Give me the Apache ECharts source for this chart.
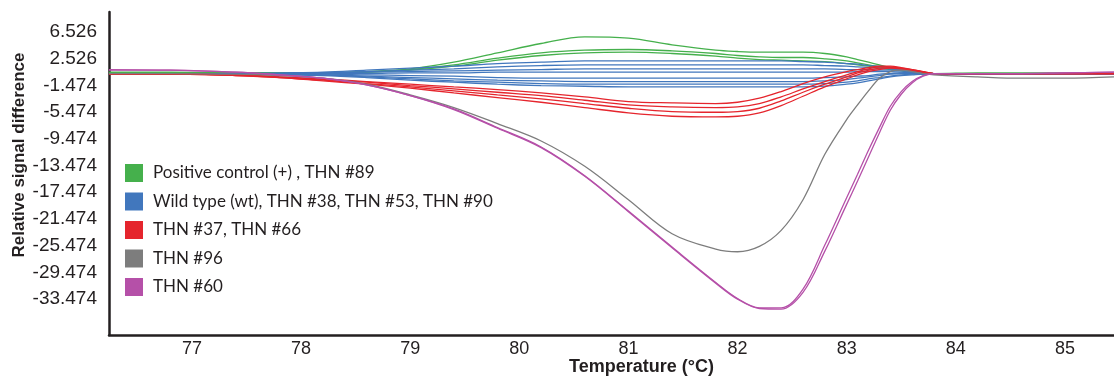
<!DOCTYPE html>
<html>
<head>
<meta charset="utf-8">
<script src="https://cdn.jsdelivr.net/npm/echarts@6/dist/echarts.min.js"></script>
<style>
html,body{margin:0;padding:0;background:#fff;}
#chart{width:1114px;height:379px;}
</style>
</head>
<body>
<div id="chart"></div>
<script>
// ---- data ----
const temps = [76.24, 76.8, 77.4, 77.8, 78.2, 78.6, 79.0, 79.4, 79.8, 80.2, 80.6, 81.0, 81.4, 81.8, 82.0, 82.2, 82.4, 82.6, 82.8, 83.0, 83.1, 83.2, 83.3, 83.4, 83.5, 83.6, 83.7, 83.8, 84.2, 84.6, 85.0, 85.45];

const xTickLabels = [77, 78, 79, 80, 81, 82, 83, 84, 85];
const yTickLabels = [6.526, 2.526, -1.474, -5.474, -9.474, -13.474, -17.474, -21.474, -25.474, -29.474, -33.474];

const groupNames = ["Positive control (+) , THN #89", "Wild type (wt), THN #38, THN #53, THN #90", "THN #37, THN #66", "THN #96", "THN #60"];

const green1 = [0.5, 0.5, 0.4, 0.4, 0.4, 0.6, 1.0, 2.0, 3.4, 4.8, 5.8, 5.6, 4.6, 3.8, 3.6, 3.5, 3.5, 3.5, 3.3, 2.8, 2.4, 2.0, 1.6, 1.2, 0.9, 0.6, 0.4, 0.3, 0.4, 0.4, 0.4, 0.4];
const green2 = [0.4, 0.4, 0.4, 0.4, 0.4, 0.5, 0.9, 1.6, 2.6, 3.4, 3.8, 3.9, 3.7, 3.3, 3.0, 2.8, 2.7, 2.7, 2.5, 2.2, 1.9, 1.6, 1.3, 1.0, 0.8, 0.6, 0.4, 0.3, 0.3, 0.3, 0.3, 0.3];
const green3 = [0.4, 0.4, 0.4, 0.4, 0.4, 0.5, 0.8, 1.4, 2.3, 3.0, 3.4, 3.5, 3.3, 2.9, 2.6, 2.4, 2.3, 2.2, 2.1, 1.8, 1.6, 1.4, 1.1, 0.9, 0.7, 0.5, 0.4, 0.3, 0.3, 0.3, 0.3, 0.3];

const blue1 = [0.3, 0.3, 0.3, 0.4, 0.5, 0.8, 1.1, 1.4, 1.8, 2.0, 2.2, 2.2, 2.2, 2.2, 2.2, 2.2, 2.2, 2.1, 2.0, 1.8, 1.7, 1.5, 1.4, 1.2, 1.0, 0.8, 0.5, 0.3, 0.3, 0.3, 0.3, 0.3];
const blue2 = [0.3, 0.3, 0.3, 0.3, 0.4, 0.6, 0.8, 1.0, 1.3, 1.5, 1.6, 1.6, 1.6, 1.6, 1.6, 1.6, 1.6, 1.6, 1.5, 1.4, 1.3, 1.2, 1.1, 1.0, 0.8, 0.6, 0.4, 0.3, 0.3, 0.3, 0.3, 0.3];
const blue3 = [0.3, 0.3, 0.3, 0.3, 0.4, 0.5, 0.6, 0.7, 0.8, 0.9, 1.0, 1.0, 1.0, 1.0, 1.0, 1.0, 1.0, 1.0, 1.0, 0.9, 0.9, 0.9, 0.8, 0.8, 0.7, 0.5, 0.4, 0.3, 0.3, 0.3, 0.3, 0.3];
const blue4 = [0.3, 0.3, 0.3, 0.3, 0.3, 0.3, 0.4, 0.4, 0.5, 0.5, 0.5, 0.5, 0.5, 0.5, 0.5, 0.5, 0.5, 0.5, 0.5, 0.5, 0.6, 0.6, 0.6, 0.6, 0.5, 0.4, 0.3, 0.3, 0.2, 0.2, 0.2, 0.2];
const blue5 = [0.3, 0.3, 0.3, 0.2, 0.2, 0.1, 0.0, -0.1, -0.3, -0.4, -0.4, -0.4, -0.4, -0.4, -0.4, -0.4, -0.4, -0.4, -0.3, -0.2, -0.1, 0.0, 0.2, 0.3, 0.4, 0.4, 0.3, 0.2, 0.2, 0.2, 0.2, 0.2];
const blue6 = [0.3, 0.3, 0.2, 0.2, 0.1, -0.1, -0.3, -0.5, -0.7, -0.8, -0.9, -0.9, -0.9, -0.9, -0.9, -0.9, -0.9, -0.9, -0.8, -0.6, -0.4, -0.2, 0.0, 0.2, 0.3, 0.3, 0.3, 0.2, 0.2, 0.2, 0.2, 0.2];
const blue7 = [0.3, 0.3, 0.2, 0.2, 0.1, -0.2, -0.5, -0.8, -1.0, -1.2, -1.3, -1.3, -1.3, -1.3, -1.3, -1.3, -1.3, -1.3, -1.2, -1.0, -0.8, -0.5, -0.3, -0.1, 0.1, 0.2, 0.2, 0.2, 0.2, 0.2, 0.2, 0.2];
const blue8 = [0.3, 0.3, 0.2, 0.1, 0.0, -0.3, -0.7, -1.0, -1.3, -1.5, -1.6, -1.7, -1.7, -1.7, -1.7, -1.7, -1.7, -1.7, -1.6, -1.3, -1.1, -0.8, -0.5, -0.2, 0.0, 0.1, 0.2, 0.2, 0.2, 0.2, 0.2, 0.2];

const red1 = [0.2, 0.2, 0.1, -0.2, -0.5, -0.9, -1.3, -1.7, -2.1, -2.6, -3.2, -3.9, -4.1, -4.2, -4.0, -3.4, -2.4, -1.2, -0.2, 0.6, 0.9, 1.2, 1.4, 1.4, 1.2, 0.9, 0.6, 0.3, 0.3, 0.3, 0.3, 0.3];
const red2 = [0.2, 0.2, 0.1, -0.2, -0.6, -1.0, -1.5, -2.0, -2.5, -3.0, -3.7, -4.4, -4.7, -4.8, -4.7, -4.2, -3.2, -2.0, -0.9, 0.1, 0.6, 1.0, 1.3, 1.3, 1.1, 0.9, 0.6, 0.3, 0.3, 0.3, 0.3, 0.3];
const red3 = [0.2, 0.2, 0.0, -0.3, -0.7, -1.2, -1.7, -2.3, -2.9, -3.5, -4.2, -4.9, -5.4, -5.5, -5.4, -4.9, -3.8, -2.5, -1.3, -0.2, 0.4, 0.8, 1.1, 1.2, 1.0, 0.8, 0.5, 0.3, 0.3, 0.3, 0.3, 0.3];
const red4 = [0.2, 0.2, 0.0, -0.3, -0.8, -1.3, -1.9, -2.6, -3.3, -4.0, -4.8, -5.6, -6.1, -6.2, -6.1, -5.6, -4.5, -3.1, -1.7, -0.5, 0.1, 0.6, 0.9, 1.1, 1.0, 0.8, 0.5, 0.3, 0.3, 0.3, 0.3, 0.3];

const gray1 = [0.3, 0.3, 0.2, 0.0, -0.4, -1.3, -2.9, -4.8, -7.2, -9.8, -13.6, -18.6, -23.7, -26.0, -26.4, -25.6, -23.2, -18.6, -11.8, -6.6, -4.4, -2.3, -0.4, 0.6, 0.8, 0.6, 0.3, 0.1, -0.2, -0.4, -0.4, -0.2];

const purple1 = [0.9, 0.8, 0.5, 0.1, -0.4, -1.4, -3.0, -5.0, -7.8, -10.7, -15.0, -20.3, -25.7, -31.0, -33.4, -34.8, -34.8, -32.0, -25.4, -18.3, -14.8, -11.2, -7.8, -4.6, -2.4, -0.9, 0.0, 0.3, 0.3, 0.3, 0.4, 0.5];
const purple2 = [0.8, 0.8, 0.5, 0.1, -0.4, -1.4, -3.0, -5.1, -7.9, -10.8, -15.1, -20.4, -25.8, -31.1, -33.5, -34.9, -35.0, -32.5, -26.3, -19.3, -15.8, -12.2, -8.6, -5.2, -2.8, -1.1, -0.1, 0.3, 0.3, 0.3, 0.4, 0.5];

// ---- chart ----
const colors = ['#45b04c', '#4177bd', '#e5252d', '#7d7d7d', '#b550a8'];
const groups = [
  [green1, green2, green3],
  [blue1, blue2, blue3, blue4, blue5, blue6, blue7, blue8],
  [red1, red2, red3, red4],
  [gray1],
  [purple1, purple2]
];

const series = [];
groups.forEach((g, gi) => {
  g.forEach(vals => {
    series.push({
      name: groupNames[gi],
      type: 'line',
      data: temps.map((t, i) => [t, vals[i]]),
      smooth: 0.35,
      showSymbol: false,
      symbol: 'none',
      color: colors[gi],
      lineStyle: { width: 1.3, color: colors[gi] },
      z: 2
    });
  });
});

const chart = echarts.init(document.getElementById('chart'), null, { renderer: 'canvas' });
chart.setOption({
  animation: false,
  backgroundColor: '#ffffff',
  grid: { left: 109, top: 12, right: 0, bottom: 44, containLabel: false, outerBoundsMode: 'none' },
  legend: {
    data: groupNames,
    orient: 'vertical',
    left: 125,
    top: 164,
    padding: 0,
    itemWidth: 18,
    itemHeight: 18,
    itemGap: 10.5,
    icon: 'rect',
    textStyle: { fontFamily: 'Lato', fontSize: 17, color: '#231f20', padding: [0, 0, 0, 5] }
  },
  xAxis: {
    type: 'value',
    min: 76.24,
    max: 85.45,
    name: 'Temperature (°C)',
    nameLocation: 'middle',
    nameGap: 23,
    nameMoveOverlap: false,
    nameTextStyle: { fontFamily: 'Liberation Sans', fontWeight: 'bold', fontSize: 18, color: '#231f20', padding: [0, 0, 0, 60] },
    axisLine: { show: true, onZero: false, lineStyle: { color: '#231f20', width: 2.5 } },
    axisTick: { show: false },
    splitLine: { show: false },
    axisLabel: {
      customValues: xTickLabels,
      margin: 5,
      fontFamily: 'Liberation Sans',
      fontSize: 18,
      color: '#231f20',
      formatter: v => String(v)
    }
  },
  yAxis: {
    type: 'value',
    min: -38.87,
    max: 9.52,
    name: 'Relative signal difference',
    nameLocation: 'middle',
    nameRotate: 90,
    nameGap: 81,
    nameMoveOverlap: false,
    nameTextStyle: { fontFamily: 'Liberation Sans', fontWeight: 'bold', fontSize: 17, color: '#231f20', padding: [0, 0, 0, 37] },
    axisLine: { show: true, onZero: false, lineStyle: { color: '#231f20', width: 2.5 } },
    axisTick: { show: false },
    splitLine: { show: false },
    axisLabel: {
      customValues: yTickLabels,
      margin: 12,
      fontFamily: 'Liberation Sans',
      fontSize: 19,
      color: '#231f20',
      formatter: v => Number(v).toFixed(3)
    }
  },
  series: series
});
</script>
</body>
</html>
